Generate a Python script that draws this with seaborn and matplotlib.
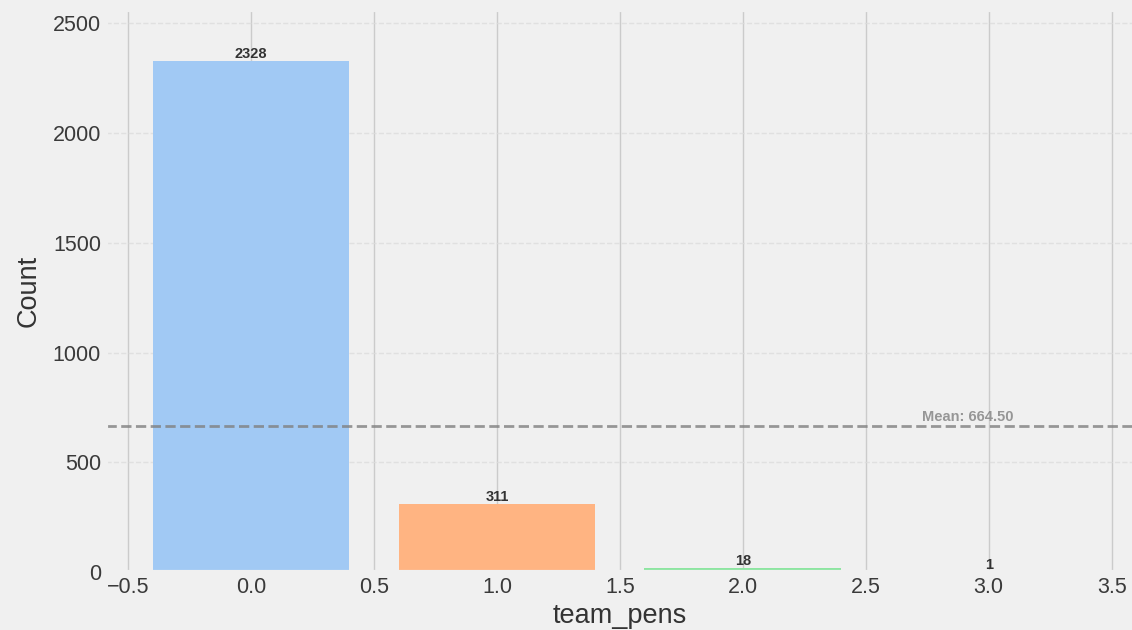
import numpy as np
import pandas as pd
import seaborn as sns
import matplotlib.pyplot as plt

# données
team_pens = [0, 1, 2, 3]
counts = [2328, 311, 18, 1]

df = pd.DataFrame({"team_pens": team_pens, "Count": counts})
mean_count = np.mean(counts)

plt.style.use("fivethirtyeight")
plt.rcParams["font.family"] = ["Liberation Sans", "DejaVu Sans"]

fig = plt.figure(figsize=(11.32, 6.3), dpi=100)
ax = fig.add_axes([0.0936, 0.092, 0.908, 0.892])

sns.barplot(data=df, x="team_pens", y="Count", hue="team_pens", native_scale=True,
            palette="pastel", saturation=1, legend=False, width=0.8, ax=ax, linewidth=0)

# valeurs au-dessus des barres
for x, c in zip(team_pens, counts):
    ax.text(x, c, str(c), ha="center", va="bottom", fontsize=10.5, fontweight="bold", color="#333333")

# ligne moyenne
ax.axhline(mean_count, color="gray", linestyle="--", linewidth=2, alpha=0.8)
ax.text(2.915, mean_count + 12, f"Mean: {mean_count:.2f}", ha="center", va="bottom",
        fontsize=10.5, fontweight="bold", color="gray", alpha=0.8)

ax.set_xlim(-0.59, 3.59)
ax.set_ylim(0, max(counts) * 1.1)
ax.xaxis.set_major_locator(plt.MultipleLocator(0.5))
ax.yaxis.set_major_locator(plt.MultipleLocator(500))

ax.grid(axis="x", color="#cbcbcb", linewidth=1, linestyle="-")
ax.grid(axis="y", color="#dcdcdc", linewidth=1, linestyle="--", alpha=0.8)
ax.set_axisbelow(True)

ax.tick_params(labelsize=15.5, colors="#3a3a3a")
ax.set_xlabel("team_pens", fontsize=19.5, color="#333333", labelpad=4)
ax.set_ylabel("Count", fontsize=19.5, color="#333333", labelpad=8)

fig.savefig("out.png", dpi=100)
